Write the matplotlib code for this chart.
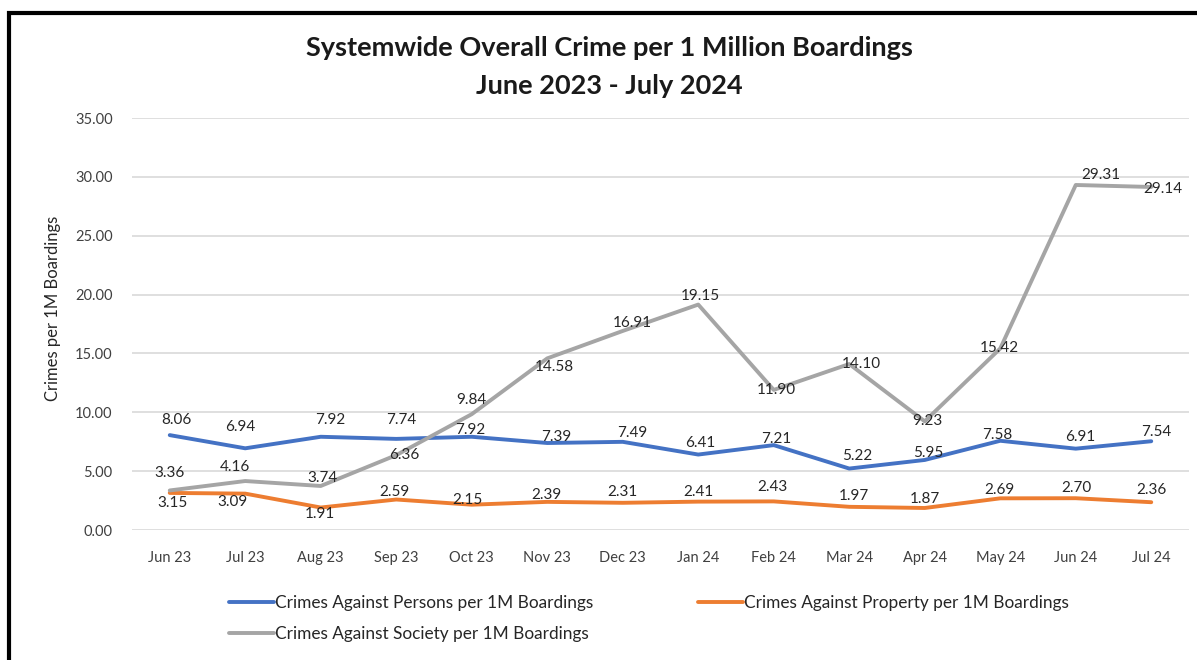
import matplotlib
matplotlib.use("Agg")
import matplotlib.pyplot as plt
from matplotlib.patches import Rectangle

plt.rcParams['font.family'] = ['Lato', 'DejaVu Sans']

months = ["Jun 23", "Jul 23", "Aug 23", "Sep 23", "Oct 23", "Nov 23", "Dec 23",
          "Jan 24", "Feb 24", "Mar 24", "Apr 24", "May 24", "Jun 24", "Jul 24"]
persons = [8.06, 6.94, 7.92, 7.74, 7.92, 7.39, 7.49, 6.41, 7.21, 5.22, 5.95, 7.58, 6.91, 7.54]
property_ = [3.15, 3.09, 1.91, 2.59, 2.15, 2.39, 2.31, 2.41, 2.43, 1.97, 1.87, 2.69, 2.70, 2.36]
society = [3.36, 4.16, 3.74, 6.36, 9.84, 14.58, 16.91, 19.15, 11.90, 14.10, 9.23, 15.42, 29.31, 29.14]
yticks = [0, 5, 10, 15, 20, 25, 30, 35]

names = ["Crimes Against Persons per 1M Boardings",
         "Crimes Against Property per 1M Boardings",
         "Crimes Against Society per 1M Boardings"]
colors = ["#4472C4", "#ED7D31", "#A5A5A5"]

# label offsets in pixels (dx, dy; dy positive = up)
off_persons = [(7, 15), (-5, 21), (9, 17), (5, 19), (-2, 7), (9, 6), (9, 9),
               (2, 12), (3, 6), (8, 13), (3, 7), (-3, 6), (4, 12), (5, 9)]
off_property = [(3, -10), (-13, -8), (-1, -6), (-2, 8), (-4, 5), (-1, 7), (0, 11),
                (0, 10), (-1, 14), (5, 11), (0, 9), (-1, 8), (1, 10), (0, 12)]
off_society = [(0, 17), (-10, 14), (2, 8), (8, 0), (0, 14), (7, -9), (10, 8),
               (2, 9), (3, 0), (12, 0), (3, 0), (-1, 0), (25, 10), (12, -2)]

W, H = 1197, 660
fig = plt.figure(figsize=(W / 100, H / 100), dpi=100)
fig.patch.set_facecolor("white")

ax = fig.add_axes([132 / W, 1 - 530 / H, (1189 - 132) / W, (530 - 118) / H])
x = list(range(len(months)))

lines = []
for vals, c, n, offs in [(persons, colors[0], names[0], off_persons),
                         (property_, colors[1], names[1], off_property),
                         (society, colors[2], names[2], off_society)]:
    ln, = ax.plot(x, vals, color=c, lw=2.8, label=n, solid_capstyle="round",
                  solid_joinstyle="round", zorder=3)
    lines.append(ln)
    for xi, v, (dx, dy) in zip(x, vals, offs):
        ax.annotate(f"{v:.2f}", (xi, v), xytext=(dx, dy), textcoords="offset pixels",
                    ha="center", va="center", fontsize=11, color="#262626", zorder=4)

ax.set_xlim(-0.5, 13.5)
ax.set_ylim(0, 35)
ax.set_yticks(yticks)
ax.set_yticklabels([f"{t:.2f}" for t in yticks])
ax.set_xticks(x)
ax.set_xticklabels(months)
ax.grid(axis="y", color="#D9D9D9", lw=1.2, zorder=0)
for s in ax.spines.values():
    s.set_visible(False)
ax.tick_params(axis="both", length=0, labelsize=10.5, labelcolor="#404040")
ax.tick_params(axis="x", pad=15)
ax.tick_params(axis="y", pad=14)

fig.text(53 / W, 1 - 308 / H, "Crimes per 1M Boardings", rotation=90,
         ha="center", va="center", fontsize=12, color="#262626")

fig.text(609 / W, 1 - 48 / H, "Systemwide Overall Crime per 1 Million Boardings",
         ha="center", va="center", fontsize=19.5, fontweight="bold", color="#1a1a1a")
fig.text(609 / W, 1 - 86 / H, "June 2023 - July 2024",
         ha="center", va="center", fontsize=19.5, fontweight="bold", color="#1a1a1a")

leg = fig.legend([lines[0], lines[2], lines[1]], [names[0], names[2], names[1]],
                 ncol=2, loc="upper left", bbox_to_anchor=(229 / W, 1 - 595 / H),
                 frameon=False, fontsize=12.4, handlelength=2.6, handletextpad=0.06,
                 columnspacing=6.1, labelspacing=0.9, borderpad=0, borderaxespad=0)
for t in leg.get_texts():
    t.set_color("#262626")

# outer chart frame (partially visible)
fig.patches.append(Rectangle((9 / W, -0.1), 1.2, 1 - 13 / H + 0.1, transform=fig.transFigure,
                             fill=False, edgecolor="black", lw=3, zorder=10))

fig.savefig("out.png", dpi=100, facecolor="white")
